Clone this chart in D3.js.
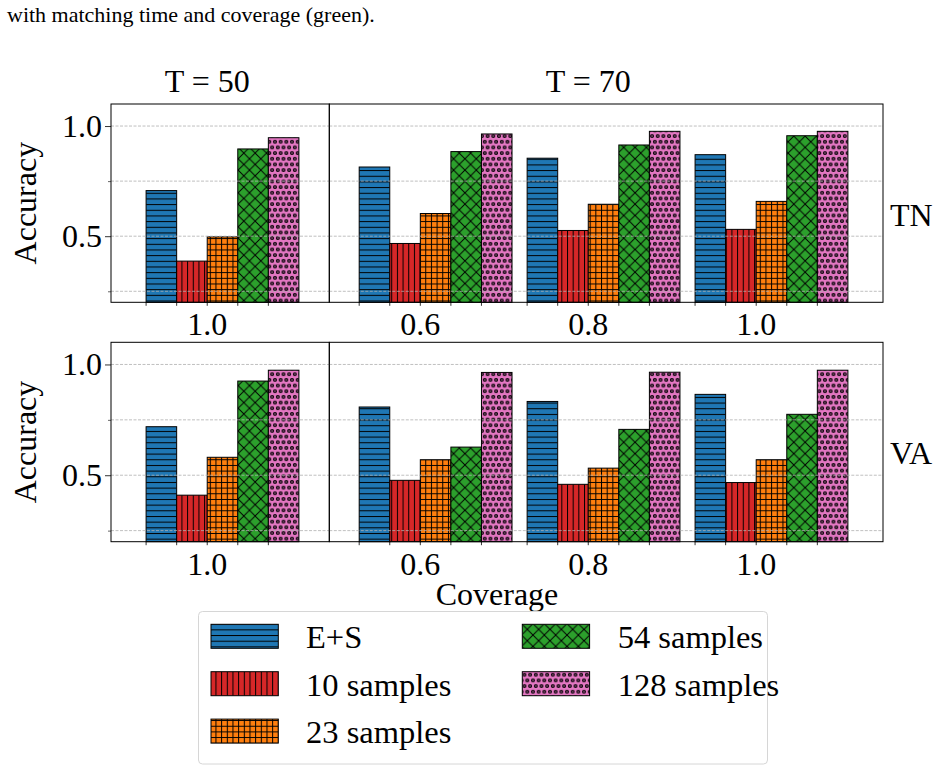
<!DOCTYPE html>
<html>
<head>
<meta charset="utf-8">
<script src="https://cdn.jsdelivr.net/npm/d3@7"></script>
<style>
body { margin: 0; background: #fff; }
svg { display: block; font-family: "Liberation Serif", "DejaVu Serif", serif; }
</style>
</head>
<body>
<script>
// series and their looks
var series = ["E+S", "10 samples", "23 samples", "54 samples", "128 samples"];
var colors = ["#1f77b4", "#d62728", "#ff7f0e", "#2ca02c", "#e377c2"];
var hatches = ["hline", "vline", "grid", "cross", "dots"];

var timeLabels = ["T = 50", "T = 70"];
var coverage50 = ["1.0"];
var coverage70 = ["0.6", "0.8", "1.0"];
var rowLabels = ["TN", "VA"];

// accuracy, [series][coverage]
var tnT50 = [[0.707], [0.387], [0.497], [0.896], [0.947]];
var tnT70 = [
    [0.814, 0.854, 0.870],
    [0.467, 0.526, 0.531],
    [0.603, 0.645, 0.658],
    [0.884, 0.914, 0.956],
    [0.964, 0.976, 0.976]
];
var vaT50 = [[0.719], [0.410], [0.581], [0.925], [0.974]];
var vaT70 = [
    [0.808, 0.833, 0.865],
    [0.477, 0.459, 0.467],
    [0.570, 0.532, 0.570],
    [0.627, 0.707, 0.775],
    [0.964, 0.965, 0.974]
];

var yMajor = [0.5, 1.0];
var yMinor = [0.25, 0.75];
var yDomain = [0.2, 1.1];

var W = 941, H = 771;
var fs = 32;
var barW = 0.182;

var svg = d3.select("body").append("svg")
    .attr("width", W)
    .attr("height", H);

// hatch patterns
var defs = svg.append("defs");
var sp = 5.67;
function pattern(id, w, h, color) {
    var p = defs.append("pattern")
        .attr("id", id)
        .attr("patternUnits", "userSpaceOnUse")
        .attr("width", w)
        .attr("height", h);
    p.append("rect").attr("width", w).attr("height", h).attr("fill", color);
    return p;
}
hatches.forEach(function (hk, i) {
    var id = "hatch" + i, c = colors[i], p;
    if (hk == "hline") {
        p = pattern(id, 10, sp, c);
        p.append("path").attr("d", "M0,0.5H10").attr("stroke", "#000").attr("stroke-width", 1);
    } else if (hk == "vline") {
        p = pattern(id, sp, 10, c);
        p.append("path").attr("d", "M0.5,0V10").attr("stroke", "#000").attr("stroke-width", 1);
    } else if (hk == "grid") {
        p = pattern(id, sp, sp, c);
        p.append("path").attr("d", "M0,0.5H" + sp + "M0.5,0V" + sp)
            .attr("stroke", "#000").attr("stroke-width", 1);
    } else if (hk == "cross") {
        var s = sp * 2;
        p = pattern(id, s, s, c);
        p.append("path").attr("d", "M-1,-1L" + (s + 1) + "," + (s + 1) + "M-1," + (s + 1) + "L" + (s + 1) + ",-1")
            .attr("stroke", "#000").attr("stroke-width", 1);
    } else {
        p = pattern(id, sp, sp * 2, c);
        [[0, 0], [sp, 0], [sp / 2, sp], [0, sp * 2], [sp, sp * 2]].forEach(function (d) {
            p.append("circle").attr("cx", d[0]).attr("cy", d[1]).attr("r", 1.35)
                .attr("fill", "none").attr("stroke", "#000").attr("stroke-width", 1.3);
        });
    }
});

// caption line above the figure
svg.append("text")
    .attr("x", 7)
    .attr("y", 22)
    .attr("font-size", 22)
    .text("with matching time and coverage (green).");

// layout of the grid of panels
var rowsY = [[104, 302.3], [342.3, 541.7]];
var colsX = [
    { cats: coverage50, range: [111, 329.3], domain: [-0.573, 0.727] },
    { cats: coverage70, range: [329.3, 883], domain: [-0.542, 2.755] }
];
var data = [[tnT50, tnT70], [vaT50, vaT70]];

rowsY.forEach(function (ry, r) {
    var y = d3.scaleLinear().domain(yDomain).range([ry[1], ry[0]]);

    colsX.forEach(function (col, c) {
        var x = d3.scaleLinear().domain(col.domain).range(col.range);
        var g = svg.append("g");
        var vals = data[r][c];

        // bars
        series.forEach(function (s, i) {
            g.selectAll(null)
                .data(vals[i])
                .enter().append("rect")
                .attr("x", function (d, j) { return x(j + (i - 2) * barW); })
                .attr("width", x(barW) - x(0))
                .attr("y", function (d) { return y(d); })
                .attr("height", function (d) { return y(yDomain[0]) - y(d); })
                .attr("fill", "url(#hatch" + i + ")")
                .attr("stroke", "#000")
                .attr("stroke-width", 1);
        });

        // grid (drawn above the bars like matplotlib's default)
        g.selectAll(null)
            .data(yMajor.concat(yMinor))
            .enter().append("line")
            .attr("x1", col.range[0]).attr("x2", col.range[1])
            .attr("y1", function (d) { return y(d); })
            .attr("y2", function (d) { return y(d); })
            .attr("stroke", "#b0b0b0")
            .attr("stroke-width", 0.8)
            .attr("stroke-dasharray", "3,1.5");

        // x ticks at each bar's left edge, label under the middle one
        var tickPos = [];
        col.cats.forEach(function (cat, j) {
            for (var k = 0; k < 5; k++) tickPos.push(j + (k - 2) * barW);
        });
        g.selectAll(null)
            .data(tickPos)
            .enter().append("line")
            .attr("x1", function (d) { return x(d); })
            .attr("x2", function (d) { return x(d); })
            .attr("y1", ry[1])
            .attr("y2", ry[1] + 3.5)
            .attr("stroke", "#000")
            .attr("stroke-width", 0.8);
        g.selectAll(null)
            .data(col.cats)
            .enter().append("text")
            .attr("x", function (d, j) { return x(j); })
            .attr("y", ry[1] + 33)
            .attr("text-anchor", "middle")
            .attr("font-size", fs)
            .text(function (d) { return d; });

        // titles on top row
        if (r == 0) {
            var mid = (col.cats.length - 1) / 2;
            g.append("text")
                .attr("x", x(mid))
                .attr("y", 92)
                .attr("text-anchor", "middle")
                .attr("font-size", fs)
                .text(timeLabels[c]);
        }

        // frame
        g.append("rect")
            .attr("x", col.range[0]).attr("y", ry[0])
            .attr("width", col.range[1] - col.range[0])
            .attr("height", ry[1] - ry[0])
            .attr("fill", "none")
            .attr("stroke", "#000")
            .attr("stroke-width", 1);
    });

    // y axis on the left panel
    var yAxis = d3.axisLeft(y).tickValues(yMajor).tickSize(6).tickPadding(3)
        .tickFormat(d3.format(".1f"));
    var ga = svg.append("g")
        .attr("transform", "translate(111,0)")
        .call(yAxis);
    ga.select(".domain").remove();
    ga.selectAll("text").attr("font-size", fs).attr("font-family", "Liberation Serif").attr("fill", "#000");
    ga.selectAll("line").attr("stroke-width", 0.8);
    var gm = svg.append("g")
        .attr("transform", "translate(111,0)")
        .call(d3.axisLeft(y).tickValues(yMinor).tickSize(3).tickFormat(""));
    gm.select(".domain").remove();
    gm.selectAll("line").attr("stroke-width", 0.6);

    svg.append("text")
        .attr("transform", "translate(36," + ((ry[0] + ry[1]) / 2) + ") rotate(-90)")
        .attr("text-anchor", "middle")
        .attr("font-size", fs)
        .text("Accuracy");

    svg.append("text")
        .attr("x", 890)
        .attr("y", ry[0] + 122)
        .attr("font-size", fs)
        .text(rowLabels[r]);
});

// x axis title
svg.append("text")
    .attr("x", (111 + 883) / 2)
    .attr("y", 605)
    .attr("text-anchor", "middle")
    .attr("font-size", fs)
    .text("Coverage");

// legend
var lg = svg.append("g");
lg.append("rect")
    .attr("x", 198.5).attr("y", 611.5)
    .attr("width", 569).attr("height", 152.5)
    .attr("rx", 4)
    .attr("fill", "#fff")
    .attr("stroke", "#d6d6d6")
    .attr("stroke-width", 1);
var legCols = [211, 522.3];
var legText = [306, 617.7];
series.forEach(function (s, i) {
    var col = i < 3 ? 0 : 1;
    var row = i < 3 ? i : i - 3;
    var top = 624.3 + row * 47.4;
    lg.append("rect")
        .attr("x", legCols[col]).attr("y", top)
        .attr("width", 67.3).attr("height", 24)
        .attr("fill", "url(#hatch" + i + ")")
        .attr("stroke", "#000")
        .attr("stroke-width", 1);
    lg.append("text")
        .attr("x", legText[col])
        .attr("y", top + 24)
        .attr("font-size", 32.5)
        .text(s);
});
</script>
</body>
</html>
